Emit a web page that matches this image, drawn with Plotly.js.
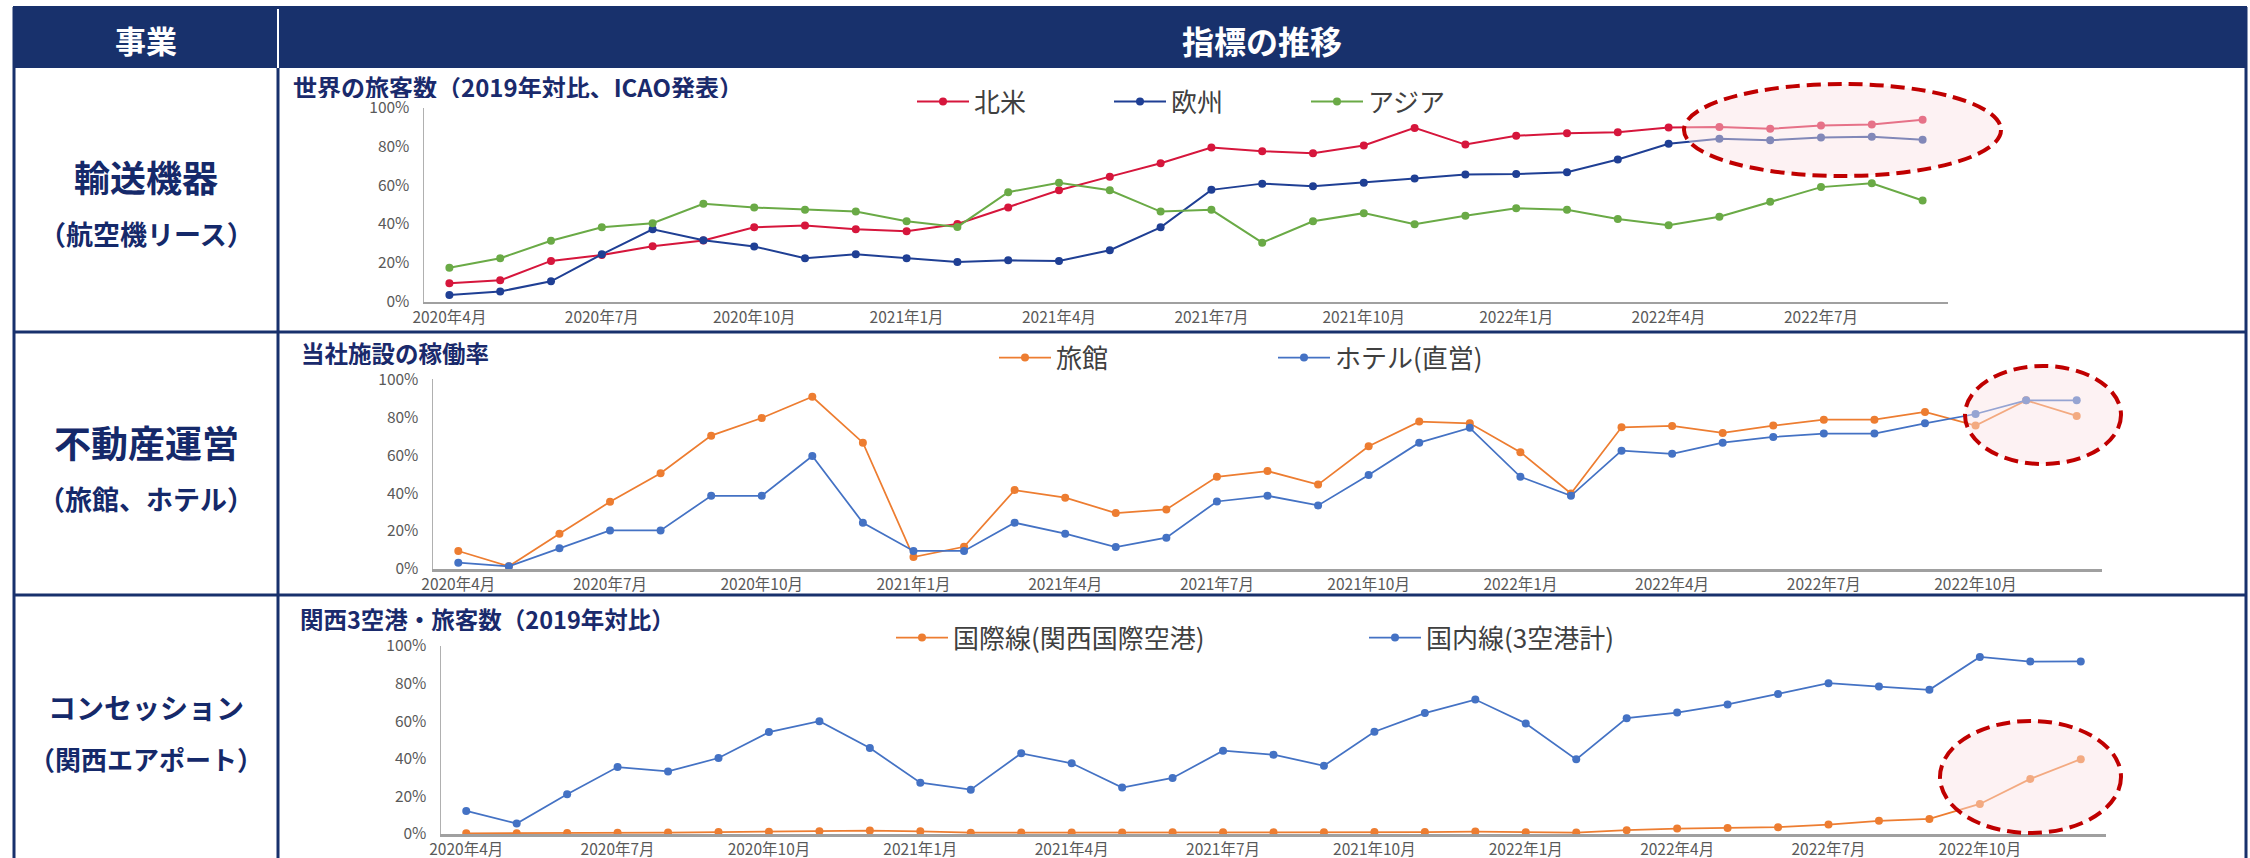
<!DOCTYPE html>
<html><head><meta charset="utf-8">
<script src="https://cdn.plot.ly/plotly-3.0.1.min.js"></script>
<style>html,body{margin:0;padding:0;background:#fff}#chart{width:2250px;height:858px}</style>
</head><body><div id="chart"></div><script>
// ---- data ----
const months1 = ['2020年4月','2020年5月','2020年6月','2020年7月','2020年8月','2020年9月','2020年10月','2020年11月','2020年12月',
  '2021年1月','2021年2月','2021年3月','2021年4月','2021年5月','2021年6月','2021年7月','2021年8月','2021年9月','2021年10月','2021年11月','2021年12月',
  '2022年1月','2022年2月','2022年3月','2022年4月','2022年5月','2022年6月','2022年7月','2022年8月','2022年9月'];
const months2 = ['2020年4月','2020年5月','2020年6月','2020年7月','2020年8月','2020年9月','2020年10月','2020年11月','2020年12月',
  '2021年1月','2021年2月','2021年3月','2021年4月','2021年5月','2021年6月','2021年7月','2021年8月','2021年9月','2021年10月','2021年11月','2021年12月',
  '2022年1月','2022年2月','2022年3月','2022年4月','2022年5月','2022年6月','2022年7月','2022年8月','2022年9月','2022年10月','2022年11月','2022年12月'];
const ticks1 = ['2020年4月','2020年7月','2020年10月','2021年1月','2021年4月','2021年7月','2021年10月','2022年1月','2022年4月','2022年7月'];
const ticks2 = ['2020年4月','2020年7月','2020年10月','2021年1月','2021年4月','2021年7月','2021年10月','2022年1月','2022年4月','2022年7月','2022年10月'];
const yTickVals = [0,20,40,60,80,100];
const yTickText = ['0%','20%','40%','60%','80%','100%'];

const northAmerica = [9.5,11,21,24,28.5,31.5,38.3,39.2,37.3,36.3,40,48.5,57.4,64.4,71.3,79.4,77.5,76.5,80.4,89.5,80.9,85.4,86.8,87.3,89.7,90,89,90.7,91.2,93.7];
const europe = [3.5,5.3,10.5,24.4,37.3,31.6,28.4,22.4,24.4,22.4,20.5,21.3,21,26.5,38.3,57.6,60.8,59.5,61.3,63.4,65.5,65.7,66.7,73.2,81.3,83.9,83.2,84.5,84.9,83.4];
const asia = [17.5,22.4,31.4,38.3,40.4,50.4,48.5,47.4,46.4,41.4,38.5,56.4,61.3,57.4,46.4,47.3,30.4,41.4,45.6,39.9,44.3,48.1,47.4,42.6,39.4,43.7,51.5,59,61,52.1];

const ryokan = [9.5,1.4,18.6,35.4,50.5,70.3,79.6,90.8,66.6,6.3,11.7,41.6,37.6,29.5,31.4,48.6,51.6,44.5,64.7,77.7,76.8,61.6,39.8,74.7,75.4,71.7,75.6,78.7,78.7,82.8,75.6,88.9,80.7];
const hotel = [3.3,1.4,10.9,20.3,20.3,38.6,38.6,59.6,24.4,9.5,9.5,24.4,18.6,11.6,16.5,35.6,38.6,33.5,49.5,66.6,74.4,48.6,38.6,62.4,60.7,66.6,69.6,71.4,71.4,76.8,81.7,88.9,88.9];

const intl = [0.4,0.4,0.5,0.6,0.8,1.0,1.2,1.5,1.8,1.4,0.7,0.8,0.8,0.8,0.9,0.9,0.9,0.9,1.0,1.0,1.3,0.9,0.8,2.0,2.9,3.2,3.6,5.0,7.0,8.0,16,29.3,39.8];
const domestic = [12.3,5.6,21.1,35.6,33.3,40.4,54.2,60,45.7,27.3,23.6,42.9,37.6,24.7,29.8,44.3,42.2,36.3,54.4,64.3,71.5,58.8,39.7,61.6,64.6,68.9,74.5,80.2,78.4,76.7,94.2,91.7,91.8];

const businessNames = ['輸送機器','不動産運営','コンセッション'];
const businessSubs = ['（航空機リース）','（旅館、ホテル）','（関西エアポート）'];
const chartTitles = ['世界の旅客数（2019年対比、ICAO発表）','当社施設の稼働率','関西3空港・旅客数（2019年対比）'];

// ---- layout helpers ----
const W = 2250, H = 858;
const fx = p => p / W;
const fy = p => 1 - p / H;
const FONT = '"Noto Sans CJK JP", "Noto Sans", sans-serif';
const NAVY = '#18316c';
const TXTNAVY = '#15296a';

function trace(name, x, y, color, ax, leg, lw) {
  return {type:'scatter', mode:'lines+markers', name, x, y,
    xaxis:'x'+ax, yaxis:'y'+ax, legend: leg,
    line:{color, width:lw}, marker:{color, size:8}};
}
const data = [
  trace('北米', months1, northAmerica, '#d6163c', '', 'legend', 2),
  trace('欧州', months1, europe, '#1f3f94', '', 'legend', 2),
  trace('アジア', months1, asia, '#6aaa46', '', 'legend', 2),
  trace('旅館', months2, ryokan, '#ed7d31', '2', 'legend2', 1.75),
  trace('ホテル(直営)', months2, hotel, '#4472c4', '2', 'legend2', 1.75),
  trace('国際線(関西国際空港)', months2, intl, '#ed7d31', '3', 'legend3', 1.75),
  trace('国内線(3空港計)', months2, domestic, '#4472c4', '3', 'legend3', 1.75),
];

function xaxis(x0, x1, n, ticks, anchor) {
  return {domain:[fx(x0), fx(x1)], anchor, type:'category', range:[-0.5, n-0.5],
    tickmode:'array', tickvals:ticks, ticktext:ticks, showgrid:false, zeroline:false,
    showline:true, linecolor:'#a0a0a0', linewidth:2.5, ticks:'',
    tickfont:{family:FONT, size:15.5, color:'#595959'}, fixedrange:true};
}
function yaxis(top, bottom, anchor) {
  return {domain:[fy(bottom), fy(top)], anchor, range:[0,100], tickmode:'array',
    tickvals:yTickVals, ticktext:yTickText, showgrid:false, zeroline:false,
    showline:true, linecolor:'#b0b0b0', linewidth:1.5, ticks:'', ticklabelstandoff:10,
    tickfont:{family:FONT, size:15.5, color:'#595959'}, fixedrange:true};
}
function legend(x, y, ew) {
  return {x:fx(x), y:fy(y), xanchor:'left', yanchor:'middle', orientation:'h',
    font:{family:FONT, size:26, color:'#404040'}, itemwidth:52, entrywidth:ew,
    entrywidthmode:'pixels', bgcolor:'rgba(0,0,0,0)', borderwidth:0, traceorder:'normal'};
}

const shapes = [];
function line(x0,y0,x1,y1,color,w,layer){shapes.push({type:'line',xref:'paper',yref:'paper',x0:fx(x0),y0:fy(y0),x1:fx(x1),y1:fy(y1),line:{color,width:w},layer:layer||'below'});}
// header
shapes.push({type:'rect',xref:'paper',yref:'paper',x0:fx(13),x1:fx(2247),y0:fy(7),y1:fy(68),fillcolor:NAVY,line:{width:0},layer:'below'});
line(278,7,278,68,'#ffffff',2);
// borders
line(14,7,14,860,NAVY,3);
line(2246,7,2246,860,NAVY,3);
line(13,7.5,2247,7.5,NAVY,3);
line(278,68,278,860,NAVY,3);
line(13,332,2247,332,NAVY,3);
line(13,595,2247,595,NAVY,3);
// highlight ellipses
function ellipse(x0,y0,x1,y1){shapes.push({type:'circle',xref:'paper',yref:'paper',x0:fx(x0),x1:fx(x1),y0:fy(y1),y1:fy(y0),
  fillcolor:'rgba(250,226,228,0.45)',line:{color:'#c00000',width:4,dash:'14px,7px'},layer:'above'});}
ellipse(1684,84,2001,176);
ellipse(1965,366,2121,464);
ellipse(1940,721,2121,833);

const annotations = [];
function ann(text,x,y,size,color,weight,xanchor,h){const a={text,xref:'paper',yref:'paper',x:fx(x),y:fy(y),
  xanchor:xanchor||'center',yanchor:'middle',showarrow:false,borderpad:0,font:{family:FONT,size,color,weight:weight||700}};
  if(h) a.height=h; annotations.push(a);}
ann('事業',146,40,31,'#ffffff');
ann('指標の推移',1262,40,32,'#ffffff');
ann(businessNames[0],146,176,36,TXTNAVY);
ann(businessSubs[0],146,234,27,TXTNAVY);
ann(businessNames[1],146,442,37,TXTNAVY);
ann(businessSubs[1],146,498,27,TXTNAVY);
ann(businessNames[2],146,707,28,TXTNAVY);
ann(businessSubs[2],146,758,26,TXTNAVY);
ann(chartTitles[0],292,86,24,'#1a2a6c',700,'left',24);
ann(chartTitles[1],300,353,23.5,'#1a2a6c',700,'left',24);
ann(chartTitles[2],299,619,23.5,'#1a2a6c',700,'left',24);

const layout = {
  width:W, height:H, margin:{l:0,r:0,t:0,b:0}, paper_bgcolor:'#ffffff', plot_bgcolor:'rgba(0,0,0,0)',
  showlegend:true, font:{family:FONT},
  xaxis: xaxis(424,1948,30,ticks1,'y'),
  yaxis: yaxis(107.5,301.7,'x'),
  xaxis2: xaxis(433,2102,33,ticks2,'y2'),
  yaxis2: yaxis(379.3,569,'x2'),
  xaxis3: xaxis(441,2106,33,ticks2,'y3'),
  yaxis3: yaxis(646,834,'x3'),
  legend: legend(912,101.7,130),
  legend2: legend(994,357.7,212),
  legend3: legend(891,637.7,406),
  shapes, annotations
};
Plotly.newPlot('chart', data, layout, {staticPlot:true, displayModeBar:false});
</script></body></html>
